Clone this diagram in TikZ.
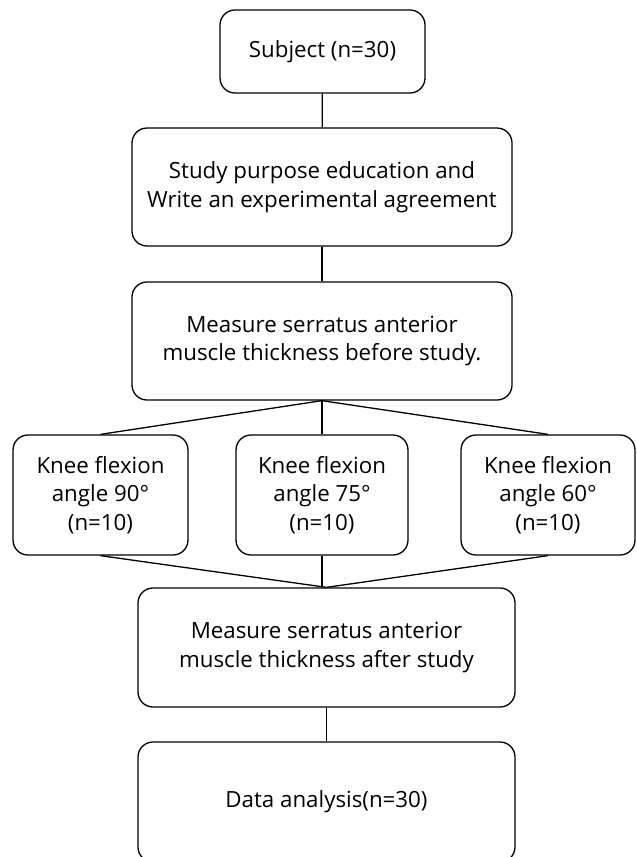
\documentclass[tikz,border=0pt]{standalone}
\usepackage{fontspec}
\setmainfont{Open Sans}
\begin{document}
\begin{tikzpicture}[x=1pt, y=-1pt,
	box/.style={draw, line width=1.3pt, rounded corners=15pt, align=center,
		font=\fontsize{22.3}{28.5}\selectfont, inner sep=0pt},
	link/.style={line width=1.3pt}]
	\useasboundingbox (0,0) rectangle (637,857);
	\node[box, minimum width=205pt, minimum height=83pt] (subject) at (322.5,51.5) {Subject (n=30)};
	\node[box, minimum width=380pt, minimum height=118pt] (educ) at (322,187) {Study purpose education and\\Write an experimental agreement};
	\node[box, minimum width=380pt, minimum height=118pt] (before) at (322,341) {Measure serratus anterior\\muscle thickness before study.};
	\node[box, minimum width=175pt, minimum height=120pt] (k90) at (100.5,495) {Knee flexion\\angle 90°\\(n=10)};
	\node[box, minimum width=172pt, minimum height=120pt] (k75) at (322,495) {Knee flexion\\angle 75°\\(n=10)};
	\node[box, minimum width=174pt, minimum height=120pt] (k60) at (548,495) {Knee flexion\\angle 60°\\(n=10)};
	\node[box, minimum width=377pt, minimum height=119pt] (after) at (326.5,647.5) {Measure serratus anterior\\muscle thickness after study};
	\node[box, minimum width=377pt, minimum height=120pt] (data) at (326.5,802) {Data analysis(n=30)};
	\draw[link] (subject) -- (educ);
	\draw[link] (educ) -- (before);
	\draw[link] (before.south) -- (k90.north);
	\draw[link] (before.south) -- (k75.north);
	\draw[link] (before.south) -- (k60.north);
	\draw[link] (k90.south) -- (after.north);
	\draw[link] (k75.south) -- (k75.south |- after.north);
	\draw[link] (k60.south) -- (after.north);
	\draw[link] (after) -- (data);
\end{tikzpicture}
\end{document}
